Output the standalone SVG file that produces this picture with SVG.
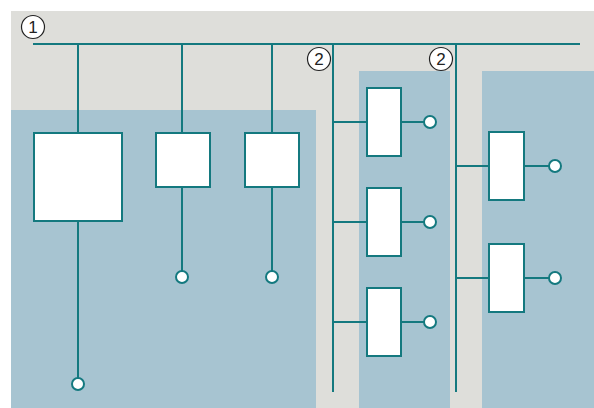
<svg xmlns="http://www.w3.org/2000/svg" width="594" height="408" viewBox="0 0 594 408">
<style>
.bg{fill:#dededa}
.panel{fill:#a7c4d1}
.box{fill:#fff;stroke:#14797f;stroke-width:2}
.ln{stroke:#14797f;stroke-width:2;fill:none}
.term{fill:#fff;stroke:#14797f;stroke-width:2}
.lbl{fill:#fff;stroke:#222;stroke-width:1.2}
.num{font-family:"Liberation Sans",Arial,sans-serif;font-size:17px;fill:#222;text-anchor:middle}
</style>
<rect x="0" y="0" width="594" height="408" fill="#fff"/>
<rect class="bg" x="11" y="11" width="583" height="397"/>
<rect class="panel" x="11" y="110" width="305" height="298"/>
<rect class="panel" x="359" y="71" width="91" height="337"/>
<rect class="panel" x="482" y="71" width="112" height="337"/>
<g id="connectors">
<path class="ln" d="M33 44H580"/>
<path class="ln" d="M78 44V133M78 221V378"/>
<path class="ln" d="M182 44V133M182 187V271"/>
<path class="ln" d="M272 44V133M272 187V271"/>
<path class="ln" d="M333 44V392M456 44V392"/>
<path class="ln" d="M333 122H367M401 122H424M333 222H367M401 222H424M333 322H367M401 322H424"/>
<path class="ln" d="M456 166H489M524 166H549M456 278H489M524 278H549"/>
</g>
<g id="label1"><circle class="lbl" cx="33" cy="27" r="11.5"/><text class="num" x="33" y="33">1</text></g>
<g id="label2a"><circle class="lbl" cx="319" cy="59" r="11.5"/><text class="num" x="319" y="65">2</text></g>
<g id="label2b"><circle class="lbl" cx="441" cy="59" r="11.5"/><text class="num" x="441" y="65">2</text></g>
<g id="box1"><rect class="box" x="34" y="133" width="88" height="88"/><circle class="term" cx="78" cy="384" r="6"/></g>
<g id="box2"><rect class="box" x="156" y="133" width="54" height="54"/><circle class="term" cx="182" cy="277" r="6"/></g>
<g id="box3"><rect class="box" x="245" y="133" width="54" height="54"/><circle class="term" cx="272" cy="277" r="6"/></g>
<g id="box4"><rect class="box" x="367" y="88" width="34" height="68"/><circle class="term" cx="430" cy="122" r="6"/></g>
<g id="box5"><rect class="box" x="367" y="188" width="34" height="68"/><circle class="term" cx="430" cy="222" r="6"/></g>
<g id="box6"><rect class="box" x="367" y="288" width="34" height="68"/><circle class="term" cx="430" cy="322" r="6"/></g>
<g id="box7"><rect class="box" x="489" y="132" width="35" height="68"/><circle class="term" cx="555" cy="166" r="6"/></g>
<g id="box8"><rect class="box" x="489" y="244" width="35" height="68"/><circle class="term" cx="555" cy="278" r="6"/></g>
</svg>
